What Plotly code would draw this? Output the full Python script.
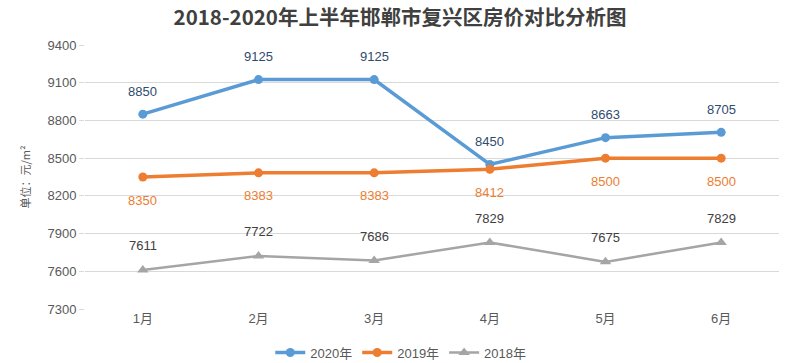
import plotly.graph_objects as go

months = ["1月", "2月", "3月", "4月", "5月", "6月"]
y2020 = [8850, 9125, 9125, 8450, 8663, 8705]
y2019 = [8350, 8383, 8383, 8412, 8500, 8500]
y2018 = [7611, 7722, 7686, 7829, 7675, 7829]
yticks = [7300, 7600, 7900, 8200, 8500, 8800, 9100, 9400]

FONT = "Liberation Sans, Arial, Noto Sans CJK SC, sans-serif"

series = [
    ("2020年", y2020, "#5B9BD5", "circle", 9, 3.5, "#2F4B6E", 23),
    ("2019年", y2019, "#ED7D31", "circle", 9, 3.5, "#ED7D31", -23),
    ("2018年", y2018, "#A5A5A5", "triangle-up", 10, 2.5, "#404040", 24),
]

fig = go.Figure()
for name, ys, color, sym, msize, lw, tcolor, shift in series:
    fig.add_trace(go.Scatter(
        x=months, y=ys, name=name, mode="lines+markers",
        line=dict(color=color, width=lw),
        marker=dict(symbol=sym, size=msize, color=color),
    ))
    for m, v in zip(months, ys):
        fig.add_annotation(x=m, y=v, text=str(v), showarrow=False,
                           yshift=shift, font=dict(size=13, color=tcolor, family=FONT))

fig.update_layout(
    width=800, height=363,
    margin=dict(l=85, r=21, t=45, b=54, autoexpand=False),
    paper_bgcolor="white", plot_bgcolor="white",
    title=dict(text="<b>2018-2020年上半年邯郸市复兴区房价对比分析图</b>",
               x=0.5, xanchor="center", y=0.95, yanchor="middle",
               font=dict(size=20.5, color="#404040", family="Noto Sans CJK SC, sans-serif")),
    font=dict(family=FONT, color="#595959", size=13),
    legend=dict(orientation="h", x=0.455, xanchor="center", y=-0.165, yanchor="middle",
                font=dict(size=13, color="#595959"), itemwidth=30, tracegroupgap=0),
    showlegend=True,
)
fig.update_xaxes(type="category", range=[-0.5, 5.5], showgrid=False, automargin=False,
                 showline=False, ticks="", tickfont=dict(size=13, color="#595959"))
fig.update_yaxes(range=[7300, 9400], tickvals=yticks, showgrid=True, automargin=False,
                 gridcolor="#D9D9D9", gridwidth=1, zeroline=False,
                 ticks="outside", ticklen=5, tickcolor="#D9D9D9",
                 tickfont=dict(size=13, color="#595959"),
                 title=dict(text="单位：元/m²", standoff=14,
                            font=dict(size=11, color="#595959", family="Noto Sans CJK SC, sans-serif")))

fig.write_html("out.html", config={"displayModeBar": False},
               post_script="document.body.style.margin='0';document.body.style.overflow='hidden';")
